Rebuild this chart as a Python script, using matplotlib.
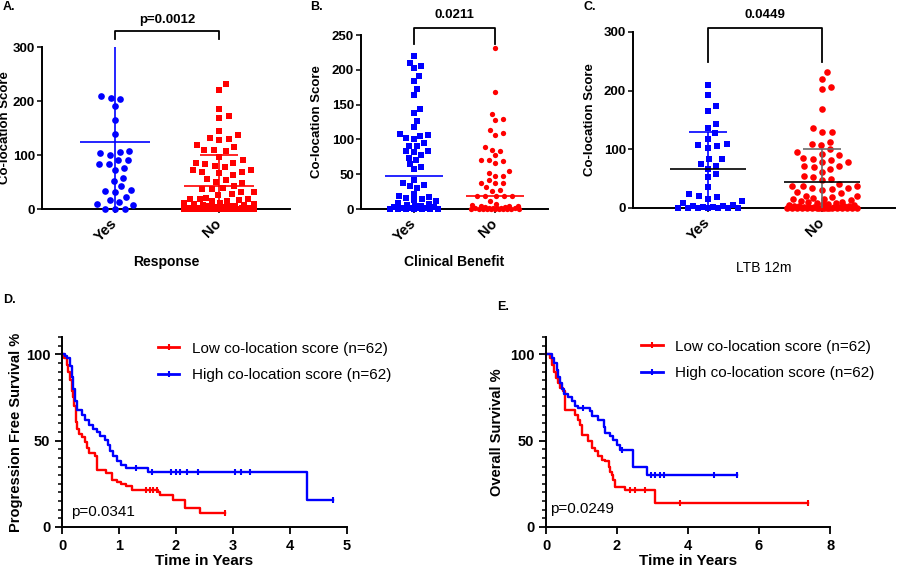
import numpy as np
import matplotlib.pyplot as plt
from matplotlib.lines import Line2D

plt.rcParams['font.family'] = ['Liberation Sans', 'DejaVu Sans']

BLUE = "#0000ff"
RED = "#ff0000"

# ---- co-location score per group ----
groups = ["Yes", "No"]

a_yes = [210, 206, 203, 191, 165, 138, 108, 105, 103, 100, 91, 91, 84, 84, 76, 72,
         58, 52, 42, 36, 34, 31, 23, 17, 13, 9, 8, 0, 0, 0]
a_no = [232, 221, 185, 173, 169, 144, 137, 131, 129, 127, 119, 115, 109, 109, 108,
        97, 90, 86, 85, 83, 80, 78, 72, 72, 69, 68, 66, 63, 55, 53, 50, 49, 42, 39,
        37, 37, 31, 31, 28, 26, 20, 19, 19, 18,
        16, 15, 14, 12, 11, 10, 9, 8, 7, 6, 5, 5, 4, 4, 3, 3, 2, 2, 2, 1, 1, 1, 1,
        0, 0, 0, 0, 0, 0, 0, 0, 0, 0, 0, 0, 0, 0, 0, 0, 0, 0, 0, 0, 0, 0, 0]
a_mid = [125, 43]
a_top = [300, 100]
a_cap = [False, True]

b_yes = [220, 210, 206, 202, 191, 184, 172, 164, 143, 138, 126, 118, 108, 107, 105,
         102, 100, 95, 91, 90, 83, 83, 82, 78, 74, 71, 65, 61, 57, 41, 38, 35, 33, 30,
         22, 19, 17, 16, 14, 13, 12,
         8, 7, 6, 5, 4, 3, 3, 2, 2, 1, 1, 0, 0, 0, 0, 0, 0, 0]
b_no = [231, 168, 136, 129, 128, 114, 109, 107, 89, 85, 84, 77, 71, 71, 69, 66, 54,
        52, 48, 47, 42, 38, 37, 37, 31, 28, 26, 19, 19, 19, 18, 18, 12,
        7, 6, 5, 4, 4, 3, 3, 2, 2, 2, 1, 1, 1, 0, 0, 0, 0, 0, 0, 0, 0, 0, 0, 0]
b_mid = [47, 18]

c_yes = [210, 192, 173, 165, 143, 137, 127, 118, 109, 107, 105, 103, 83, 83, 75, 72,
         66, 58, 52, 35, 23, 20, 19, 15, 12, 9,
         5, 4, 3, 2, 1, 0, 0, 0, 0, 0, 0, 0]
c_no = [231, 220, 206, 203, 169, 136, 129, 129, 113, 109, 107, 100, 95, 92, 90, 85,
        84, 82, 78, 78, 72, 71, 69, 67, 61, 55, 53, 50, 47, 41, 38, 38, 38, 34, 34,
        32, 31, 27, 25, 21, 21, 19,
        17, 16, 15, 14, 12, 11, 10, 9, 8, 7, 6, 5, 5, 4, 4, 3, 3, 2, 2, 1, 1, 1,
        0, 0, 0, 0, 0, 0, 0, 0, 0, 0, 0, 0, 0, 0, 0, 0, 0, 0]
c_mid = [66, 44]
c_top = [130, 101]

# ---- Kaplan-Meier curves (step points, survival %) ----
d_low_t = [0, 0.04, 0.08, 0.11, 0.14, 0.17, 0.19, 0.21, 0.24, 0.27, 0.29, 0.345, 0.40,
           0.44, 0.48, 0.57, 0.61, 0.78, 0.87, 0.96, 1.04, 1.13, 1.22, 1.69, 1.72,
           1.95, 2.16, 2.42, 2.86]
d_low_s = [100, 98, 94, 90, 85, 79, 75, 70, 61, 57, 54, 52, 49, 46, 43, 41, 33, 31, 27,
           26, 25, 24, 21.5, 20.5, 18.6, 15.7, 11, 8, 8]
d_low_c = [1.47, 1.54, 1.60, 1.67, 2.86]
d_high_t = [0, 0.05, 0.094, 0.14, 0.17, 0.20, 0.23, 0.26, 0.345, 0.40, 0.48, 0.55, 0.61,
            0.67, 0.75, 0.80, 0.84, 0.89, 0.96, 1.03, 1.13, 1.51, 4.29, 4.76]
d_high_s = [100, 99, 98, 93, 87, 80, 73, 68, 65, 62, 59, 57, 55, 52.5, 50.6, 47.7, 44,
            41, 38, 36, 34, 31.6, 15.7, 15.7]
d_high_c = [1.30, 1.57, 1.92, 2.00, 2.07, 2.20, 2.39, 3.04, 3.14, 3.30, 4.76]

e_low_t = [0, 0.11, 0.18, 0.23, 0.28, 0.33, 0.39, 0.49, 0.54, 0.82, 0.91, 0.96, 1.00,
           1.19, 1.29, 1.38, 1.47, 1.57, 1.66, 1.76, 1.80, 1.85, 1.90, 1.94, 2.23,
           3.07, 7.39]
e_low_s = [100, 98, 94, 90, 86, 83.5, 80.6, 78.7, 68, 65, 62, 59, 53.5, 49.6, 45.7,
           43.8, 41, 39, 38, 35, 32, 30, 27, 23.4, 21.5, 13.8, 13.8]
e_low_c = [2.37, 2.51, 2.79, 3.78, 7.39]
e_high_t = [0, 0.16, 0.23, 0.30, 0.35, 0.39, 0.44, 0.52, 0.63, 0.72, 0.82, 0.91, 1.24,
            1.29, 1.47, 1.62, 1.66, 1.80, 1.90, 1.99, 2.08, 2.44, 2.84, 5.39]
e_high_s = [100, 98, 95, 91, 87, 83.5, 80, 77, 75, 73, 70, 69, 67, 64, 62, 58, 54.5,
            52.5, 50.6, 47.7, 44.8, 35, 30.2, 30.2]
e_high_c = [1.05, 2.15, 2.95, 3.07, 3.21, 3.31, 4.74, 5.39]

legend_labels = ["Low co-location score (n=62)", "High co-location score (n=62)"]


def swarm(values, kx, ky, diam, half):
    """x offsets (data units) so markers don't pile up; works in pixels.
    Wider spacing sideways than up/down, like the Prism scatter layout."""
    vals = np.asarray(values, float)
    sx, sy = 1.45 * diam, 1.15 * diam
    steps = np.arange(0.5, half + 0.01, 0.5)
    cands = np.concatenate([[0.0], np.column_stack([steps, -steps]).ravel()])
    px, py = [], []
    offs = np.zeros(len(vals))
    for i in np.argsort(vals, kind="stable"):
        y = vals[i] * ky
        best, best_d = 0.0, -1.0
        for c in cands:
            if px:
                d = np.min(np.hypot((np.array(px) - c) / sx, (np.array(py) - y) / sy))
            else:
                d = 1e9
            if d >= 1:
                best = c
                break
            if d > best_d:
                best, best_d = c, d
        offs[i] = best / kx
        px.append(best)
        py.append(y)
    return offs


def dot_panel(ax, data, markers, colors, size_px, half_px, ylim, yticks):
    ax.set_ylim(*ylim)
    ax.set_yticks(yticks)
    bb = ax.get_window_extent()
    x0, x1 = ax.get_xlim()
    kx = bb.width / (x1 - x0)
    ky = bb.height / (ylim[1] - ylim[0])
    for i, (vals, m, c) in enumerate(zip(data, markers, colors)):
        off = swarm(vals, kx, ky, size_px, half_px)
        ax.scatter(i + off, vals, marker=m, s=(size_px * 0.72) ** 2, color=c,
                   linewidths=0, zorder=3, clip_on=False)
    ax.set_xticks([0, 1])
    ax.set_xticklabels(groups, rotation=45, ha="right", va="center",
                       rotation_mode="anchor", fontsize=10.5, fontweight="bold")
    ax.tick_params(axis="x", length=3, width=1.1, pad=6)
    ax.tick_params(axis="y", length=3.5, width=1.1, pad=1.5, labelsize=9.5)
    for lbl in ax.get_yticklabels():
        lbl.set_fontweight("bold")
    for s in ["top", "right"]:
        ax.spines[s].set_visible(False)
    for s in ["left", "bottom"]:
        ax.spines[s].set_linewidth(1.4)
    ax.set_ylabel("Co-location Score", fontsize=9.5, fontweight="bold")


def bracket(ax, end, top, text, ty):
    ax.plot([0, 0, 1, 1], [end, top, top, end], color="k", lw=1.3, clip_on=False)
    ax.text(0.5, ty, text, ha="center", va="center", fontsize=9.5, fontweight="bold")


fig = plt.figure(figsize=(9, 5.72), dpi=100)

# ---- A ----
axA = fig.add_axes([0.0467, 0.6346, 0.2756, 0.2832])
axA.set_xlim(-0.70, 1.68)
dot_panel(axA, [a_yes, a_no], ["o", "s"], [BLUE, RED], 6.7, 35, (0, 300), [0, 100, 200, 300])
for i, c in enumerate([BLUE, RED]):
    axA.vlines(i, 0, a_top[i], color=c, lw=1.2, zorder=4)
    axA.hlines(a_mid[i], i - 0.335, i + 0.335, color=c, lw=1.2, zorder=4)
    if a_cap[i]:
        axA.hlines(a_top[i], i - 0.18, i + 0.18, color=c, lw=1.2, zorder=4)
bracket(axA, 315, 330, "p=0.0012", 350)
axA.set_xlabel("Response", fontsize=10, fontweight="bold")
axA.xaxis.set_label_coords(0.5, -0.284)
axA.yaxis.set_label_coords(-0.126, 0.5)

# ---- B ----
axB = fig.add_axes([0.4011, 0.6346, 0.2078, 0.3042])
axB.set_xlim(-0.654, 1.654)
dot_panel(axB, [b_yes, b_no], ["s", "o"], [BLUE, RED], 5.3, 24, (0, 250),
          [0, 50, 100, 150, 200, 250])
for i, c in enumerate([BLUE, RED]):
    axB.hlines(b_mid[i], i - 0.36, i + 0.36, color=c, lw=1.2, zorder=4)
bracket(axB, 237, 260, "0.0211", 279)
axB.set_xlabel("Clinical Benefit", fontsize=10, fontweight="bold")
axB.xaxis.set_label_coords(0.5, -0.264)
axB.yaxis.set_label_coords(-0.203, 0.5)

# ---- C ----
axC = fig.add_axes([0.7033, 0.6364, 0.2911, 0.3077])
axC.set_xlim(-0.658, 1.64)
dot_panel(axC, [c_yes, c_no], ["s", "o"], [BLUE, RED], 6.6, 35, (0, 300), [0, 100, 200, 300])
for i, c in enumerate([BLUE, "dimgray"]):
    axC.vlines(i, 0, c_top[i], color=c, lw=1.2, zorder=4)
    axC.hlines(c_top[i], i - 0.167, i + 0.167, color=c, lw=1.2, zorder=4)
    axC.hlines(c_mid[i], i - 0.33, i + 0.33, color="k", lw=1.2, zorder=5)
bracket(axC, 249, 307, "0.0449", 329)
axC.set_xlabel("LTB 12m", fontsize=10)
axC.xaxis.set_label_coords(0.5, -0.3)
axC.yaxis.set_label_coords(-0.141, 0.5)


# ---- survival panels ----
def step_at(t, s, when):
    idx = np.searchsorted(t, when, side="right") - 1
    return np.asarray(s)[idx]


def km_panel(ax, curves, xmax, xticks, ylabel, ptext, pxy, leg_xy):
    for t, s, cens, c in curves:
        ax.plot(t, s, drawstyle="steps-post", color=c, lw=1.7, clip_on=False)
        ax.plot(cens, step_at(t, s, cens), "|", color=c, ms=4, mew=1.5, clip_on=False)
    ax.set_xlim(0, xmax)
    ax.set_ylim(0, 110)
    ax.set_xticks(xticks)
    ax.set_yticks([0, 50, 100])
    ax.set_yticks(np.arange(0, 111, 5), minor=True)
    ax.tick_params(axis="both", which="major", length=5, width=1.3, labelsize=10.5)
    ax.tick_params(axis="y", which="minor", length=3, width=1.1)
    for lbl in ax.get_xticklabels() + ax.get_yticklabels():
        lbl.set_fontweight("bold")
    for s in ["top", "right"]:
        ax.spines[s].set_visible(False)
    for s in ["left", "bottom"]:
        ax.spines[s].set_linewidth(1.4)
    ax.set_xlabel("Time in Years", fontsize=11, fontweight="bold", labelpad=1)
    ax.set_ylabel(ylabel, fontsize=10.5, fontweight="bold")
    ax.text(pxy[0], pxy[1], ptext, transform=ax.transAxes, ha="left", va="center",
            fontsize=11)
    handles = [Line2D([], [], color=c, lw=2, marker="|", ms=4, mew=1.5)
               for c in [RED, BLUE]]
    ax.legend(handles, legend_labels, loc="upper left", bbox_to_anchor=leg_xy,
              frameon=False, fontsize=11, handlelength=1.4, handletextpad=0.8,
              borderpad=0, borderaxespad=0, labelspacing=0.8)


axD = fig.add_axes([0.0689, 0.0787, 0.3167, 0.3322])
km_panel(axD, [(d_low_t, d_low_s, d_low_c, RED), (d_high_t, d_high_s, d_high_c, BLUE)],
         5, [0, 1, 2, 3, 4, 5], "Progression Free Survival %", "p=0.0341",
         (0.032, 0.079), (0.337, 0.975))
axD.yaxis.set_label_coords(-0.137, 0.5)

axE = fig.add_axes([0.6067, 0.0787, 0.3156, 0.3322])
km_panel(axE, [(e_low_t, e_low_s, e_low_c, RED), (e_high_t, e_high_s, e_high_c, BLUE)],
         8, [0, 2, 4, 6, 8], "Overall Survival %", "p=0.0249",
         (0.014, 0.095), (0.335, 0.985))
axE.yaxis.set_label_coords(-0.148, 0.5)

# panel letters
for x, y, s in [(0.003, 0.987, "A."), (0.345, 0.987, "B."), (0.648, 0.987, "C."),
                (0.003, 0.475, "D."), (0.552, 0.463, "E.")]:
    fig.text(x, y, s, fontsize=9, fontweight="bold", va="center")

fig.savefig("out.png", dpi=100)
